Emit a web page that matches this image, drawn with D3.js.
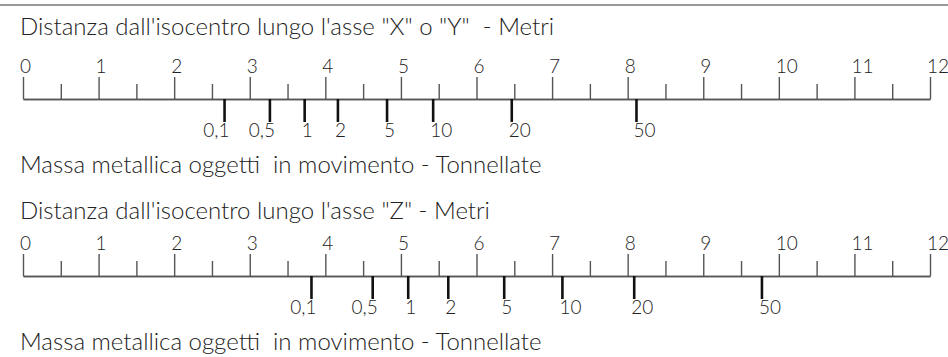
<!DOCTYPE html>
<html lang="it">
<head>
  <meta charset="UTF-8" />
  <title>Distanza dall'isocentro - Massa metallica</title>
  <script src="https://cdnjs.cloudflare.com/ajax/libs/d3/7.8.2/d3.min.js"></script>
  <style>
    body { margin: 0; padding: 0; background: #fff; }
    svg { display: block; }
    text { font-family: Lato, "Open Sans", sans-serif; font-weight: 300; fill: #222; }
    .title { font-size: 24px; }
    .tick-lbl { font-size: 19px; }
    .meter .domain, .meter line { stroke: #555; stroke-width: 1.4px; }
    .mass line { stroke: #111; stroke-width: 2.6px; }
    .mass .domain { display: none; }
  </style>
</head>
<body>
<svg id="chart"></svg>
<script>
// ---- data ----
const meterTicks = [0, 1, 2, 3, 4, 5, 6, 7, 8, 9, 10, 11, 12];
const halfTicks = [0.5, 1.5, 2.5, 3.5, 4.5, 5.5, 6.5, 7.5, 8.5, 9.5, 10.5, 11.5];
const massLabels = ["0,1", "0,5", "1", "2", "5", "10", "20", "50"];
// distance (m) at which each mass tick sits
const xyDistances = [2.66, 3.26, 3.72, 4.16, 4.81, 5.42, 6.46, 8.11];
const zDistances = [3.81, 4.62, 5.09, 5.62, 6.36, 7.13, 8.08, 9.77];
const titles = [
  "Distanza dall'isocentro lungo l'asse \"X\" o \"Y\"  - Metri",
  "Distanza dall'isocentro lungo l'asse \"Z\" - Metri"
];
const massTitle = "Massa metallica oggetti  in movimento - Tonnellate";

// ---- setup ----
const width = 948, height = 357;
const svg = d3.select("#chart").attr("width", width).attr("height", height);

const x = d3.scaleLinear().domain([0, 12]).range([23, 930]);

// rule at the very top
svg.append("line")
  .attr("x1", 0).attr("x2", width).attr("y1", 5).attr("y2", 5)
  .attr("stroke", "#777").attr("stroke-width", 1.5);

const panels = [
  { title: titles[0], dist: xyDistances, axisY: 99, titleY: 35 },
  { title: titles[1], dist: zDistances, axisY: 276, titleY: 219 }
];

panels.forEach(p => {
  const g = svg.append("g");

  g.append("text").attr("class", "title")
    .attr("x", 20).attr("y", p.titleY)
    .style("white-space", "pre")
    .text(p.title);

  // minor half-metre ticks
  g.append("g").attr("class", "meter")
    .attr("transform", `translate(0,${p.axisY})`)
    .call(d3.axisTop(x).tickValues(halfTicks).tickSize(15).tickSizeOuter(0).tickFormat(""));

  // major metre ticks with labels
  const major = g.append("g").attr("class", "meter")
    .attr("transform", `translate(0,${p.axisY})`)
    .call(d3.axisTop(x).tickValues(meterTicks).tickSize(22).tickSizeOuter(0).tickFormat(d3.format("d")));
  major.selectAll("text")
    .attr("class", "tick-lbl")
    .attr("text-anchor", "start")
    .attr("font-size", null).attr("font-family", null).attr("fill", null)
    .attr("dx", -3.5).attr("y", -26).attr("dy", 0);

  // mass ticks below the line
  const mass = g.append("g").attr("class", "mass")
    .attr("transform", `translate(0,${p.axisY})`)
    .call(d3.axisBottom(x).tickValues(p.dist).tickSize(23).tickSizeOuter(0)
      .tickFormat((d, i) => massLabels[i]));
  mass.selectAll("text")
    .attr("class", "tick-lbl")
    .attr("font-size", null).attr("font-family", null).attr("fill", null)
    .attr("text-anchor", d => massLabels[p.dist.indexOf(d)].includes(",") ? "end" : "start")
    .attr("dx", d => massLabels[p.dist.indexOf(d)].includes(",") ? 5 : -3)
    .attr("y", 38).attr("dy", 0);

  g.append("text").attr("class", "title")
    .attr("x", 20).attr("y", p.axisY + 74)
    .style("white-space", "pre")
    .text(massTitle);
});
</script>
</body>
</html>
